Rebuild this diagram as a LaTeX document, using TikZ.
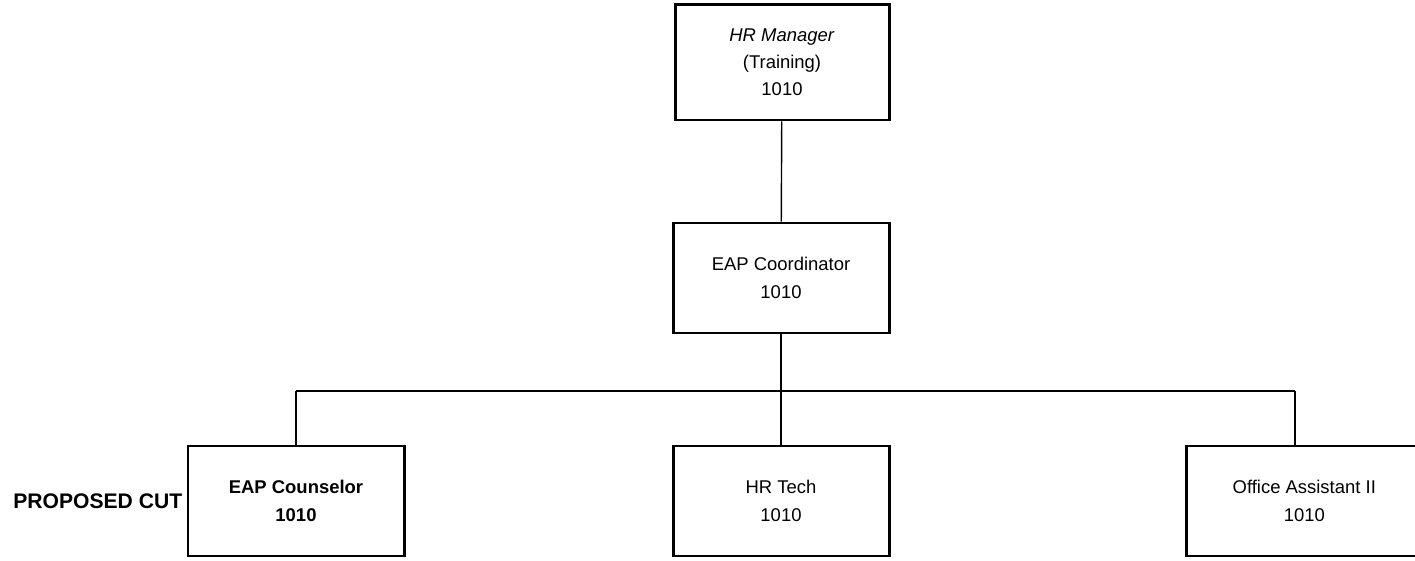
\documentclass[tikz,border=0pt]{standalone}
\usepackage{fontspec}
\setmainfont{Liberation Sans}
\usetikzlibrary{positioning}
\begin{document}
\begin{tikzpicture}[
		post/.style={rectangle, draw, line width=1.7pt, minimum width=4.32cm, minimum height=2.2cm,
				inner sep=2pt, align=center, font=\fontsize{10.5}{15.5}\selectfont},
		link/.style={line width=0.8pt}]
	\useasboundingbox (0,0) rectangle (28.3,11.2);

	% Cargos
	\node[post, minimum width=4.28cm, minimum height=2.3cm] (manager) at (15.64, 9.95) {\textit{HR Manager}\\(Training)\\1010};
	\node[post] (coordinator) at (15.62, 5.64) {EAP Coordinator\\1010};
	\node[post] (counselor) at (5.92, 1.18) {\textbf{EAP Counselor}\\\textbf{1010}};
	\node[post] (tech) at (15.62, 1.18) {HR Tech\\1010};
	\node[post, minimum width=4.73cm] (office) at (26.085, 1.18) {Office Assistant II\\1010};
	\node[inner sep=0pt, font=\bfseries\fontsize{12}{14}\selectfont, left=0.08cm of counselor] (cut) {PROPOSED CUT};

	% Lineas
	\coordinate (barL) at (5.92, 3.38);
	\coordinate (barR) at (25.9, 3.38);
	\draw[link] (manager) -- (coordinator);
	\draw[link] (coordinator) -- (coordinator |- barL);
	\draw[link] (barL) -- (barR);
	\foreach \n in {counselor, tech} {
			\draw[link] (\n |- barL) -- (\n);
		}
	\draw[link] (barR) -- (barR |- office.north);
\end{tikzpicture}
\end{document}
